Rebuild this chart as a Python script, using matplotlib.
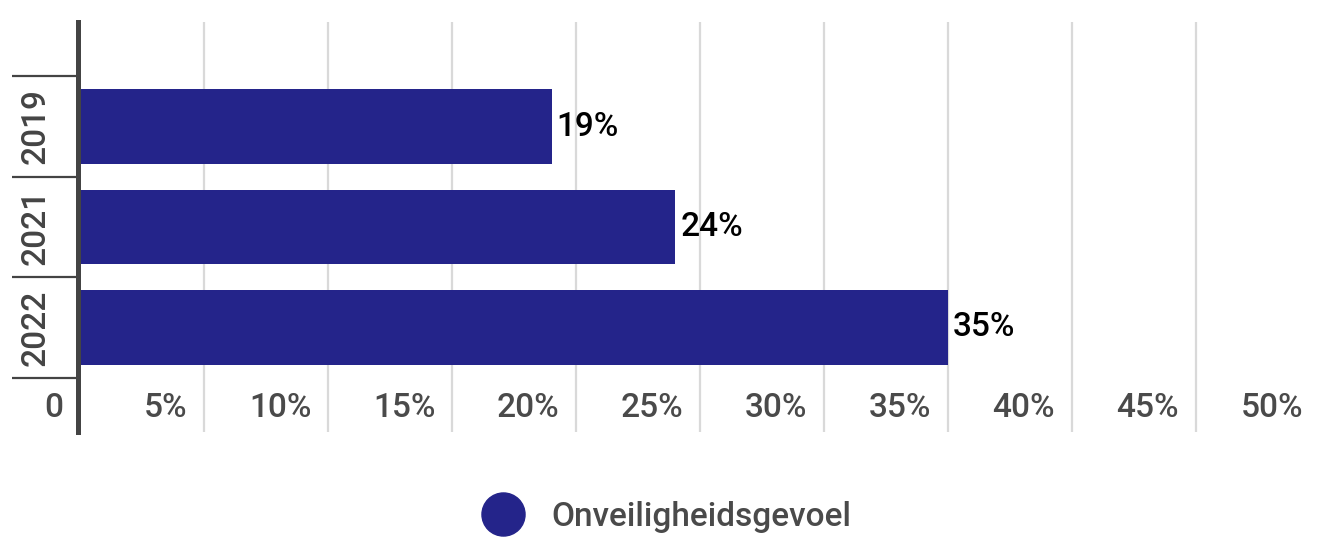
import matplotlib.pyplot as plt
import matplotlib.transforms as mtransforms
from matplotlib.lines import Line2D

plt.rcParams['font.family'] = ['Roboto', 'DejaVu Sans']

# data
years = ['2019', '2021', '2022']
values = [19, 24, 35]
xticks = [0, 5, 10, 15, 20, 25, 30, 35, 40, 45, 50]
xtick_labels = ['0', '5%', '10%', '15%', '20%', '25%', '30%', '35%', '40%', '45%', '50%']
series_name = 'Onveiligheidsgevoel'

bar_color = '#24248a'
text_gray = '#4a4a4a'
axis_gray = '#444444'

fig = plt.figure(figsize=(13.17, 5.46), dpi=100)
ax = fig.add_axes([80.5 / 1317, 114 / 546, 1239.5 / 1317, 410 / 546])

y = list(range(len(years)))
ax.barh(y, values, height=0.74, color=bar_color, zorder=3)
ax.set_xlim(0, 50)
ax.set_ylim(len(years) - 0.5 + 0.54, -0.5 - 0.54)

# value labels
for yi, v in zip(y, values):
    ax.text(v + 0.2, yi, f'{v}%', va='center', ha='left', fontsize=24,
            fontweight='medium', color='black', zorder=4)

# grid
for t in xticks[1:]:
    ax.axvline(t, color='#d9d9d9', lw=1.6, zorder=1)

for s in ['top', 'right', 'bottom']:
    ax.spines[s].set_visible(False)
ax.spines['left'].set_color(axis_gray)
ax.spines['left'].set_linewidth(3.6)
ax.spines['left'].set_position(('outward', 1.8))
ax.spines['left'].set_zorder(5)
ax.set_xticks([])
ax.set_yticks([])

# x tick labels, right aligned left of each grid line
blend = mtransforms.blended_transform_factory(ax.transData, ax.transData)
off = mtransforms.offset_copy(blend, fig=fig, x=-17, y=0, units='dots')
for t, lab in zip(xticks, xtick_labels):
    ax.text(t, len(years) - 0.5 + 0.3, lab, transform=off, ha='right', va='center',
            fontsize=24, fontweight='medium', color=text_gray, clip_on=False)

# category labels and separators
sep_x0 = (12 - 80.5) / 1239.5
bt = mtransforms.blended_transform_factory(ax.transAxes, ax.transData)
for k in range(len(years) + 1):
    ax.plot([sep_x0, -2.5 / 1239.5], [k - 0.5, k - 0.5], transform=bt, color=axis_gray,
            lw=1.6, clip_on=False, solid_capstyle='butt')
for yi, yr in zip(y, years):
    ax.text((36 - 80.5) / 1239.5, yi, yr, transform=bt, rotation=90, ha='center',
            va='center', fontsize=24, fontweight='medium', color=axis_gray, clip_on=False)

handle = Line2D([], [], marker='o', linestyle='none', markersize=31,
                markerfacecolor=bar_color, markeredgecolor=bar_color)
fig.legend([handle], [series_name], loc='center', bbox_to_anchor=(0.5015, 0.053),
           frameon=False, fontsize=24, labelcolor=text_gray, handletextpad=0.44,
           prop={'weight': 'medium', 'size': 24})

fig.savefig('out.png', dpi=100)
